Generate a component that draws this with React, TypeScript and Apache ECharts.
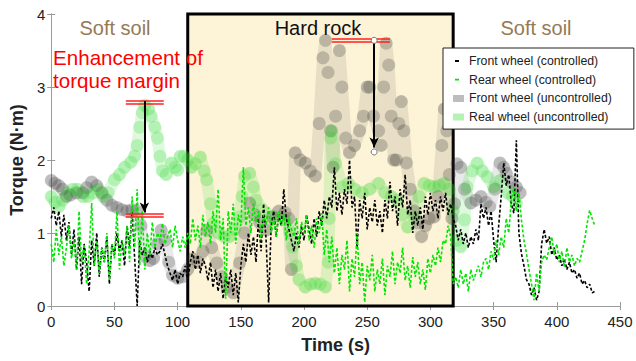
import React, { useEffect, useRef } from "react";
import * as echarts from "echarts";

// Controlled wheels: sampled every 2 s from t = 0 to 430 s
const ctrlStep = 2;
const frontCtrl = [
  1.2, 1.35, 1.1, 1.3, 0.95, 1.25,
  0.9, 1.15, 0.7, 1.05, 0.5,
  0.95, 0.3, 0.85, 0.6, 0.2,
  0.9, 0.55, 1.0, 0.4, 0.8,
  0.6, 0.95, 0.3, 0.85, 0.7,
  1.0, 0.75, 0.9, 0.55, 1.1,
  0.8, 1.3, 0.65, 0.0, 0.9,
  0.7, 0.8, 0.6, 0.75, 0.65,
  0.8, 0.7, 0.75, 0.85, 0.7,
  0.55, 0.45, 0.35, 0.5, 0.3,
  0.45, 0.4, 0.55, 0.35, 0.6,
  0.75, 0.5, 0.7, 0.45, 0.65,
  0.55, 0.35, 0.6, 0.25, 0.5,
  0.2, 0.45, 0.1, 0.4, 0.25,
  0.5, 0.15, 0.45, 0.05, 0.55,
  0.85, 0.6, 1.0, 0.7, 0.95,
  0.6, 1.2, 0.75, 1.4, 0.9,
  0.05, 1.1, 1.3, 0.95, 1.25,
  1.1, 1.6, 1.2, 1.05, 0.9,
  0.75, 1.0, 0.8, 1.1, 0.9,
  1.25, 1.05, 0.85, 1.2, 0.95,
  1.3, 1.1, 1.45, 1.2, 1.5,
  1.35, 1.9, 1.3, 1.55, 1.25,
  1.6, 1.4, 2.0, 1.35, 1.5,
  0.8, 1.45, 1.2, 1.55, 1.05,
  1.35, 1.15, 1.45, 1.1, 1.3,
  1.0, 1.45, 1.2, 1.7, 1.3,
  1.5, 1.1, 1.6, 1.35, 1.8,
  1.25, 1.45, 1.0, 1.3, 1.1,
  1.35, 1.05, 1.5, 1.25, 1.55,
  1.3, 1.45, 1.2, 1.5, 1.3,
  1.55, 1.25, 1.4, 1.2, 1.1,
  0.9, 1.05, 0.85, 1.0, 0.8,
  0.95, 0.85, 1.05, 0.9, 1.4,
  1.2, 1.35, 1.1, 1.3, 0.9,
  0.6, 1.1, 1.5, 1.96, 1.65,
  1.8, 1.4, 1.27, 2.27, 1.0,
  0.72, 0.55, 0.36, 0.3, 0.15,
  0.25, 0.08, 0.2, 0.85, 1.05,
  0.86, 0.95, 0.7, 0.8, 0.63,
  0.7, 0.55, 0.65, 0.5, 0.6,
  0.45, 0.5, 0.38, 0.45, 0.3,
  0.35, 0.25, 0.3, 0.18, 0.2,
];
const rearCtrl = [
  0.85, 0.6, 1.05, 0.7, 0.95, 0.55,
  0.8, 1.1, 0.65, 0.9, 0.5,
  1.3, 0.6, 0.85, 0.3, 0.75,
  1.41, 0.55, 0.9, 0.45, 0.8,
  0.6, 1.0, 0.35, 0.85, 0.65,
  1.3, 0.5, 0.9, 0.7, 1.1,
  0.6, 1.5, 0.8, 1.6, 0.55,
  1.3, 0.5, 1.0, 0.7, 1.15,
  0.8, 1.0, 0.9, 1.13, 0.85,
  0.95, 1.05, 0.8, 1.1, 0.9,
  0.75, 0.95, 0.8, 1.0, 0.85,
  1.2, 0.9, 1.1, 0.8, 1.25,
  0.95, 1.15, 0.85, 1.3, 1.0,
  1.6, 0.9, 1.2, 0.1, 1.3,
  1.0, 1.4, 0.85, 1.25, 1.1,
  1.9, 1.1, 1.35, 1.0, 1.4,
  1.15, 1.3, 0.9, 1.25, 1.1,
  1.35, 1.0, 1.2, 0.95, 1.3,
  1.1, 1.25, 0.9, 1.2, 1.05,
  0.95, 1.2, 0.85, 1.15, 1.0,
  1.25, 0.9, 1.1, 0.8, 1.2,
  1.0, 1.27, 0.7, 1.05, 0.6,
  0.95, 0.45, 0.8, 0.3, 0.7,
  0.5, 0.9, 0.2, 0.65, 0.4,
  1.0, 0.3, 0.6, 0.05, 0.55,
  0.35, 0.7, 0.2, 0.5, 0.3,
  0.65, 0.15, 0.55, 0.4, 0.75,
  0.3, 0.6, 0.45, 0.8, 0.35,
  0.55, 0.25, 0.67, 0.4, 0.6,
  0.3, 0.5, 0.22, 0.65, 0.45,
  0.7, 0.55, 0.8, 0.6, 0.9,
  0.85, 1.1, 0.95, 0.3, 0.4,
  0.25, 0.5, 0.3, 0.45, 0.2,
  0.5, 0.35, 0.45, 0.55, 0.4,
  0.6, 0.65, 0.5, 0.75, 0.63,
  0.9, 0.7, 0.95, 0.8, 1.2,
  1.0, 1.45, 1.63, 1.3, 1.55,
  1.18, 0.9, 0.72, 0.5, 0.3,
  0.08, 0.45, 0.2, 0.6, 0.7,
  0.63, 0.8, 0.95, 0.7, 0.85,
  0.6, 0.75, 0.53, 0.8, 0.6,
  0.7, 0.55, 0.65, 0.6, 0.75,
  0.9, 1.13, 1.31, 1.2, 1.1,
];

// Uncontrolled wheels (time s, torque N·m)
const uncFrontT = [0, 3, 6, 9, 12, 15, 20, 25, 28, 32, 36, 40, 44, 48, 52, 56, 60, 64, 68, 71, 74, 78, 81, 84, 87, 90, 93, 96, 100, 104, 108, 112, 116, 120, 123, 127, 131, 135, 139, 144, 149, 153, 157, 161, 165, 170, 175, 180, 185, 188, 190, 193, 197, 201, 205, 209, 212, 215, 217, 219, 221, 223, 225, 228, 230, 233, 236, 240, 244, 247, 250, 252, 255, 259, 261, 263, 265, 267, 269, 271, 273, 275, 277, 279, 281, 284, 287, 290, 293, 296, 299, 303, 306, 309, 311, 313, 315, 317, 319, 321, 324, 327, 332, 336, 340, 344, 347, 351, 355, 358, 360, 364, 368, 371];
const uncFrontV = [1.72, 1.68, 1.65, 1.6, 1.5, 1.52, 1.55, 1.55, 1.62, 1.7, 1.65, 1.55, 1.45, 1.38, 1.35, 1.32, 1.3, 1.32, 1.3, 1.1, 0.68, 0.62, 0.65, 0.85, 1.04, 0.9, 0.6, 0.42, 0.38, 0.4, 0.5, 0.65, 0.6, 0.75, 1.04, 0.8, 0.59, 0.4, 0.26, 0.18, 0.59, 1.0, 1.41, 1.25, 1.14, 1.04, 1.22, 1.3, 1.28, 1.2, 0.5, 2.1, 2.0, 1.96, 1.85, 1.78, 2.5, 3.4, 3.64, 3.2, 2.4, 1.9, 2.6, 3.5, 3.0, 2.3, 2.1, 2.2, 2.4, 2.6, 3.0, 3.0, 2.6, 2.4, 2.2, 3.0, 3.6, 3.3, 2.6, 2.0, 2.0, 2.5, 2.8, 2.4, 1.96, 1.6, 1.3, 1.14, 0.95, 1.1, 1.2, 1.22, 1.5, 2.2, 2.7, 2.4, 1.8, 1.2, 1.4, 1.95, 1.9, 1.6, 1.41, 1.45, 1.5, 1.42, 1.36, 1.6, 1.96, 1.9, 1.82, 1.7, 1.63, 1.55];
const uncRearT = [0, 3, 6, 9, 13, 17, 21, 25, 29, 33, 37, 41, 45, 50, 54, 58, 63, 66, 68, 70, 72, 74, 77, 79, 82, 84, 86, 88, 91, 95, 98, 100, 102, 105, 108, 111, 114, 118, 121, 123, 126, 128, 132, 137, 141, 145, 149, 151, 153, 157, 160, 162, 167, 175, 185, 189, 191, 194, 196, 201, 205, 209, 213, 217, 219, 220, 221, 222, 225, 230, 235, 240, 246, 252, 259, 264, 269, 274, 278, 282, 287, 291, 295, 299, 303, 307, 311, 315, 318, 321, 324, 327, 329, 333, 337, 341, 345, 350, 355, 361, 365, 368];
const uncRearV = [1.5, 1.42, 1.36, 1.45, 1.55, 1.6, 1.6, 1.5, 1.5, 1.55, 1.6, 1.5, 1.55, 1.73, 1.8, 1.9, 1.97, 2.05, 2.2, 2.45, 2.65, 2.75, 2.7, 2.6, 2.45, 2.3, 2.05, 1.85, 1.8, 1.96, 1.9, 1.86, 2.05, 2.05, 2.0, 1.9, 1.95, 2.04, 1.85, 1.73, 1.4, 1.13, 1.0, 0.95, 0.95, 1.05, 1.22, 1.5, 1.78, 1.82, 1.63, 1.45, 1.32, 1.22, 1.18, 1.0, 0.81, 0.55, 0.36, 0.26, 0.3, 0.31, 0.3, 0.26, 0.6, 1.2, 2.3, 2.4, 1.95, 1.63, 1.68, 1.6, 1.55, 1.6, 1.68, 1.55, 1.5, 1.45, 1.25, 1.08, 1.22, 1.5, 1.68, 1.65, 1.63, 1.65, 1.68, 1.6, 1.3, 0.9, 0.81, 1.18, 1.63, 1.85, 1.96, 1.85, 1.77, 1.63, 1.72, 1.55, 1.5, 1.41];

// Region and annotation values (data coordinates)
const hardRock = [108, 318];
const margin1 = { t0: 59, t1: 89, top: [2.808, 2.767], bottom: [1.26, 1.219], arrowT: 73.7 };
const margin2 = { t0: 222, t1: 268, top: [3.658, 3.621], arrowT: 255.5, arrowEnd: 2.13, dot: 2.11 };

const names = {
  fc: "Front wheel (controlled)",
  rc: "Rear wheel (controlled)",
  fu: "Front wheel (uncontrolled)",
  ru: "Real wheel (uncontrolled)",
};

const FONT = '"Liberation Sans", Arial, Helvetica, sans-serif';

export default function App() {
  const ref = useRef<HTMLDivElement>(null);
  useEffect(() => {
    const chart = echarts.init(ref.current!, null, { renderer: "svg" });
    const fc = frontCtrl.map((v, i) => [i * ctrlStep, v]);
    const rc = rearCtrl.map((v, i) => [i * ctrlStep, v]);
    const fu = uncFrontT.map((t, i) => [t, uncFrontV[i]]);
    const ru = uncRearT.map((t, i) => [t, uncRearV[i]]);

    const dashIcon = "path://M0,0L0.01,0Z M9,3.6L13,3.6L13,5.4L9,5.4Z M18,9L17.99,9Z";
    const rectIcon = "path://M0,0L0.01,0Z M7,1L18,1L18,8L7,8Z M18,9L17.99,9Z";
    const redLine = { color: "#ff2020", width: 1.5, type: "solid" as const };
    const blackArrow = { color: "#000", width: 2, type: "solid" as const };

    const axisCommon = {
      type: "value" as const,
      axisLine: { show: true, lineStyle: { color: "#9a9a9a", width: 1 } },
      axisTick: { show: true, inside: true, length: 4, lineStyle: { color: "#9a9a9a" } },
      splitLine: { show: false },
    };

    const option: any = {
      animation: false,
      textStyle: { fontFamily: FONT },
      grid: { left: 46, right: 16, top: 14, bottom: 55, containLabel: false },
      legend: {
        orient: "vertical",
        left: 443,
        top: 48,
        padding: [6, 22, 5, 3],
        itemWidth: 18,
        itemHeight: 9,
        itemGap: 4.7,
        backgroundColor: "#fff",
        borderColor: "#222",
        borderWidth: 1,
        selectedMode: false,
        textStyle: { fontSize: 12.3, color: "#222", fontFamily: FONT, lineHeight: 14 },
        data: [
          { name: names.fc, icon: dashIcon, itemStyle: { color: "#000", opacity: 1, borderWidth: 0, borderColor: "transparent" } },
          { name: names.rc, icon: dashIcon, itemStyle: { color: "#00e600", opacity: 1, borderWidth: 0, borderColor: "transparent" } },
          { name: names.fu, icon: rectIcon, itemStyle: { color: "#bdbdbd", opacity: 1, borderWidth: 0, borderColor: "transparent" } },
          { name: names.ru, icon: rectIcon, itemStyle: { color: "#b4f3b4", opacity: 1, borderWidth: 0, borderColor: "transparent" } },
        ],
      },
      xAxis: [
        {
          ...axisCommon,
          min: 0,
          max: 450,
          interval: 50,
          name: "Time (s)",
          nameLocation: "middle",
          nameGap: 30,
          nameTextStyle: { fontSize: 18, fontWeight: "bold", color: "#222", fontFamily: FONT },
          axisLabel: { fontSize: 15, color: "#222", margin: 8, fontFamily: FONT },
        },
        {
          ...axisCommon,
          position: "top",
          min: 0,
          max: 450,
          interval: 50,
          axisLabel: { show: false },
        },
      ],
      yAxis: [
        {
          ...axisCommon,
          min: 0,
          max: 4,
          interval: 1,
          name: "Torque (N·m)",
          nameLocation: "middle",
          nameGap: 19,
          nameTextStyle: { fontSize: 18, fontWeight: "bold", color: "#222", fontFamily: FONT },
          axisLabel: { fontSize: 15, color: "#222", margin: 6, fontFamily: FONT },
        },
        {
          ...axisCommon,
          position: "right",
          min: 0,
          max: 4,
          interval: 1,
          axisLabel: { show: false },
        },
      ],
      series: [
        {
          name: "_bg",
          type: "line",
          data: [],
          z: 1,
          silent: true,
          markArea: {
            silent: true,
            label: { show: false },
            itemStyle: { color: "#fdf3d7", borderColor: "#000", borderWidth: 3 },
            data: [[{ coord: [hardRock[0], 0] }, { coord: [hardRock[1], 4] }]],
          },
        },
        {
          name: names.fu,
          type: "line",
          data: fu,
          z: 2,
          silent: true,
          color: "#333",
          symbol: "circle",
          symbolSize: 13,
          showSymbol: true,
          itemStyle: { color: "#222", opacity: 0.22 },
          lineStyle: { color: "#4a4a4a", width: 12, opacity: 0.12, cap: "round", join: "round" },
        },
        {
          name: names.ru,
          type: "line",
          data: ru,
          z: 2,
          silent: true,
          color: "#1fd81f",
          symbol: "circle",
          symbolSize: 13,
          showSymbol: true,
          itemStyle: { color: "#1fd81f", opacity: 0.22 },
          lineStyle: { color: "#3ade3a", width: 12, opacity: 0.17, cap: "round", join: "round" },
        },
        {
          name: names.fc,
          type: "line",
          data: fc,
          z: 3,
          silent: true,
          color: "#000",
          showSymbol: false,
          lineStyle: { color: "#000", width: 1.6, type: [3, 2] },
        },
        {
          name: names.rc,
          type: "line",
          data: rc,
          z: 3,
          silent: true,
          color: "#00e600",
          showSymbol: false,
          lineStyle: { color: "#00e600", width: 1.6, type: [3, 2] },
        },
        {
          name: "_ann",
          type: "line",
          data: [],
          z: 5,
          silent: true,
          markLine: {
            silent: true,
            symbol: "none",
            label: { show: false },
            data: [
              [{ coord: [margin1.t0, margin1.top[0]], lineStyle: redLine }, { coord: [margin1.t1, margin1.top[0]] }],
              [{ coord: [margin1.t0, margin1.top[1]], lineStyle: redLine }, { coord: [margin1.t1, margin1.top[1]] }],
              [{ coord: [margin1.t0, margin1.bottom[0]], lineStyle: redLine }, { coord: [margin1.t1, margin1.bottom[0]] }],
              [{ coord: [margin1.t0, margin1.bottom[1]], lineStyle: redLine }, { coord: [margin1.t1, margin1.bottom[1]] }],
              [{ coord: [margin2.t0, margin2.top[0]], lineStyle: redLine }, { coord: [margin2.t1, margin2.top[0]] }],
              [{ coord: [margin2.t0, margin2.top[1]], lineStyle: redLine }, { coord: [margin2.t1, margin2.top[1]] }],
              [
                { coord: [margin1.arrowT, margin1.top[0]], lineStyle: blackArrow, symbol: "none" },
                { coord: [margin1.arrowT, margin1.bottom[0] + 0.02], symbol: "arrow", symbolSize: [7, 10] },
              ],
              [
                { coord: [margin2.arrowT, (margin2.top[0] + margin2.top[1]) / 2], lineStyle: blackArrow, symbol: "none" },
                { coord: [margin2.arrowT, margin2.arrowEnd + 0.04], symbol: "arrow", symbolSize: [7, 10] },
              ],
            ],
          },
          markPoint: {
            silent: true,
            symbol: "circle",
            symbolSize: 6,
            label: { show: false },
            itemStyle: { color: "#fff", borderColor: "#777", borderWidth: 1 },
            data: [
              { coord: [margin2.arrowT, (margin2.top[0] + margin2.top[1]) / 2] },
              { coord: [margin2.arrowT, margin2.dot] },
            ],
          },
        },
      ],
      graphic: [
        {
          type: "text", x: 115, y: 28, z: 100, silent: true,
          style: { text: "Soft soil", fill: "#957a55", font: `20px ${FONT}`, align: "center", verticalAlign: "middle", textAlign: "center", textVerticalAlign: "middle" },
        },
        {
          type: "text", x: 318, y: 28, z: 100, silent: true,
          style: { text: "Hard rock", fill: "#111", font: `20px ${FONT}`, align: "center", verticalAlign: "middle", textAlign: "center", textVerticalAlign: "middle" },
        },
        {
          type: "text", x: 536, y: 28, z: 100, silent: true,
          style: { text: "Soft soil", fill: "#957a55", font: `20px ${FONT}`, align: "center", verticalAlign: "middle", textAlign: "center", textVerticalAlign: "middle" },
        },
        {
          type: "text", x: 53, y: 57, z: 100, silent: true,
          style: { text: "Enhancement of", fill: "#ff0000", font: `20.6px ${FONT}`, align: "left", verticalAlign: "middle", textAlign: "left", textVerticalAlign: "middle" },
        },
        {
          type: "text", x: 53, y: 80, z: 100, silent: true,
          style: { text: "torque margin", fill: "#ff0000", font: `20.6px ${FONT}`, align: "left", verticalAlign: "middle", textAlign: "left", textVerticalAlign: "middle" },
        },
      ],
    };
    chart.setOption(option);
    return () => chart.dispose();
  }, []);
  return <div ref={ref} style={{ width: 636, height: 361, position: "absolute", left: 0, top: 0 }} />;
}
